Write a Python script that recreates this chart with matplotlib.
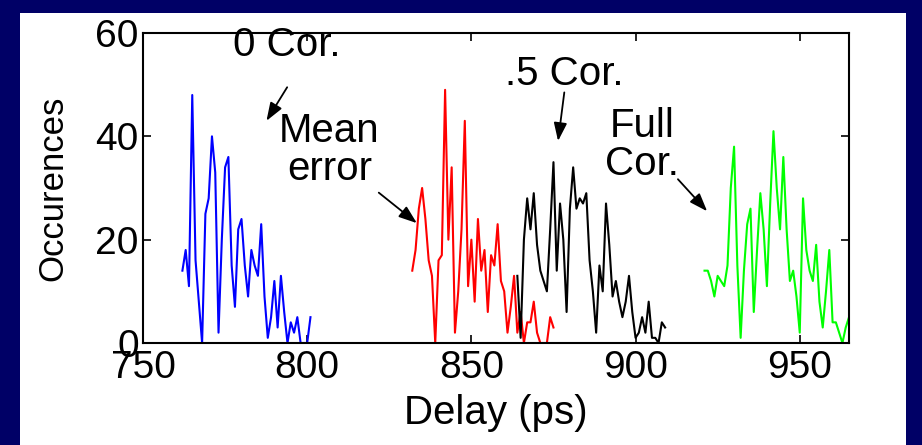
import matplotlib
matplotlib.use("Agg")
import matplotlib.pyplot as plt
from matplotlib.patches import Rectangle

# Histogram of delays for the three correction schemes plus the mean-error case
x_zero = list(range(762, 802))
y_zero = [14, 18, 11, 48, 16, 8, 0, 25, 28, 40, 33, 2, 20, 34, 36, 15, 7, 22, 24, 15,
          9, 18, 15, 13, 23, 9, 1, 5, 12, 3, 13, 6, 0, 4, 2, 5, 0, 0, 0, 5]

x_mean = list(range(832, 876))
y_mean = [14, 18, 26, 30, 24, 16, 13, 0, 16, 17, 49, 20, 34, 2, 10, 22, 43, 11, 20, 8,
          24, 14, 18, 6, 17, 15, 23, 12, 10, 2, 7, 13, 2, 6, 0, 4, 4, 8, 2, 0,
          0, 0, 5, 3]

x_half = list(range(864, 910))
y_half = [13, 1, 20, 28, 22, 29, 19, 14, 12, 10, 22, 35, 14, 27, 20, 6, 26, 34, 26, 28,
          27, 29, 16, 10, 2, 15, 10, 27, 19, 9, 12, 8, 5, 8, 13, 6, 1, 2, 5, 2,
          8, 1, 1, 0, 4, 3]

x_full = list(range(921, 966))
y_full = [14, 14, 12, 9, 13, 12, 11, 15, 30, 38, 15, 1, 14, 23, 26, 6, 18, 29, 22, 11,
          27, 41, 30, 22, 36, 22, 12, 14, 9, 2, 28, 18, 14, 12, 19, 8, 3, 10, 18, 4,
          4, 2, 0, 3, 5]

x_ticks = [750, 800, 850, 900, 950]
y_ticks = [0, 20, 40, 60]

W, H = 922, 445
fig = plt.figure(figsize=(W / 100, H / 100), dpi=100, facecolor="#000066")
panel = Rectangle((20 / W, 0), (906 - 20) / W, (H - 13) / H,
                  transform=fig.transFigure, facecolor="white",
                  edgecolor="none", zorder=-10)
fig.add_artist(panel)

ax = fig.add_axes([143 / W, (H - 343) / H, (849 - 143) / W, (343 - 33) / H])
ax.set_facecolor("white")
ax.set_zorder(1)

lw = 1.5
ax.plot(x_zero, y_zero, color=(0, 0, 1), lw=lw)
ax.plot(x_mean, y_mean, color=(1, 0, 0), lw=lw)
ax.plot(x_half, y_half, color="black", lw=lw)
ax.plot(x_full, y_full, color=(0, 1, 0), lw=lw)

ax.set_xlim(750, 965)
ax.set_ylim(0, 60)
ax.set_xticks(x_ticks)
ax.set_yticks(y_ticks)

fam = ["Liberation Sans", "DejaVu Sans"]
fs_tick = 28
fs_note = 29
ax.tick_params(direction="in", top=True, right=True, length=6, width=1.2,
               labelsize=fs_tick)
ax.tick_params(axis="x", pad=5)
ax.tick_params(axis="y", pad=3)
for lab in ax.get_xticklabels() + ax.get_yticklabels():
    lab.set_family(fam)
for s in ax.spines.values():
    s.set_linewidth(1.5)

ax.set_xlabel("Delay (ps)", fontsize=29, family=fam, labelpad=6)
ax.set_ylabel("Occurences", fontsize=25, family=fam, labelpad=19)

arrow = dict(arrowstyle="-|>,head_length=1.1,head_width=0.4", color="black",
             lw=1.3, shrinkA=0, shrinkB=0)
ax.text(793.7, 57.6, "0 Cor.", fontsize=fs_note, family=fam, ha="center", va="center")
ax.annotate("", xy=(787.6, 43.0), xytext=(793.9, 49.5), arrowprops=arrow)

ax.text(806.8, 37.3, "Mean\nerror", fontsize=fs_note, family=fam, ha="center",
        va="center", linespacing=1.0)
ax.annotate("", xy=(833.4, 23.2), xytext=(821.8, 29.1), arrowprops=arrow)

ax.text(878.4, 52.0, ".5 Cor.", fontsize=fs_note, family=fam, ha="center", va="center")
ax.annotate("", xy=(876.4, 39.1), xytext=(878.3, 48.5), arrowprops=arrow)

ax.text(901.9, 38.4, "Full\nCor.", fontsize=fs_note, family=fam, ha="center",
        va="center", linespacing=1.0)
ax.annotate("", xy=(921.8, 25.5), xytext=(912.9, 31.7), arrowprops=arrow)

fig.savefig("out.png", dpi=100, facecolor=fig.get_facecolor())
